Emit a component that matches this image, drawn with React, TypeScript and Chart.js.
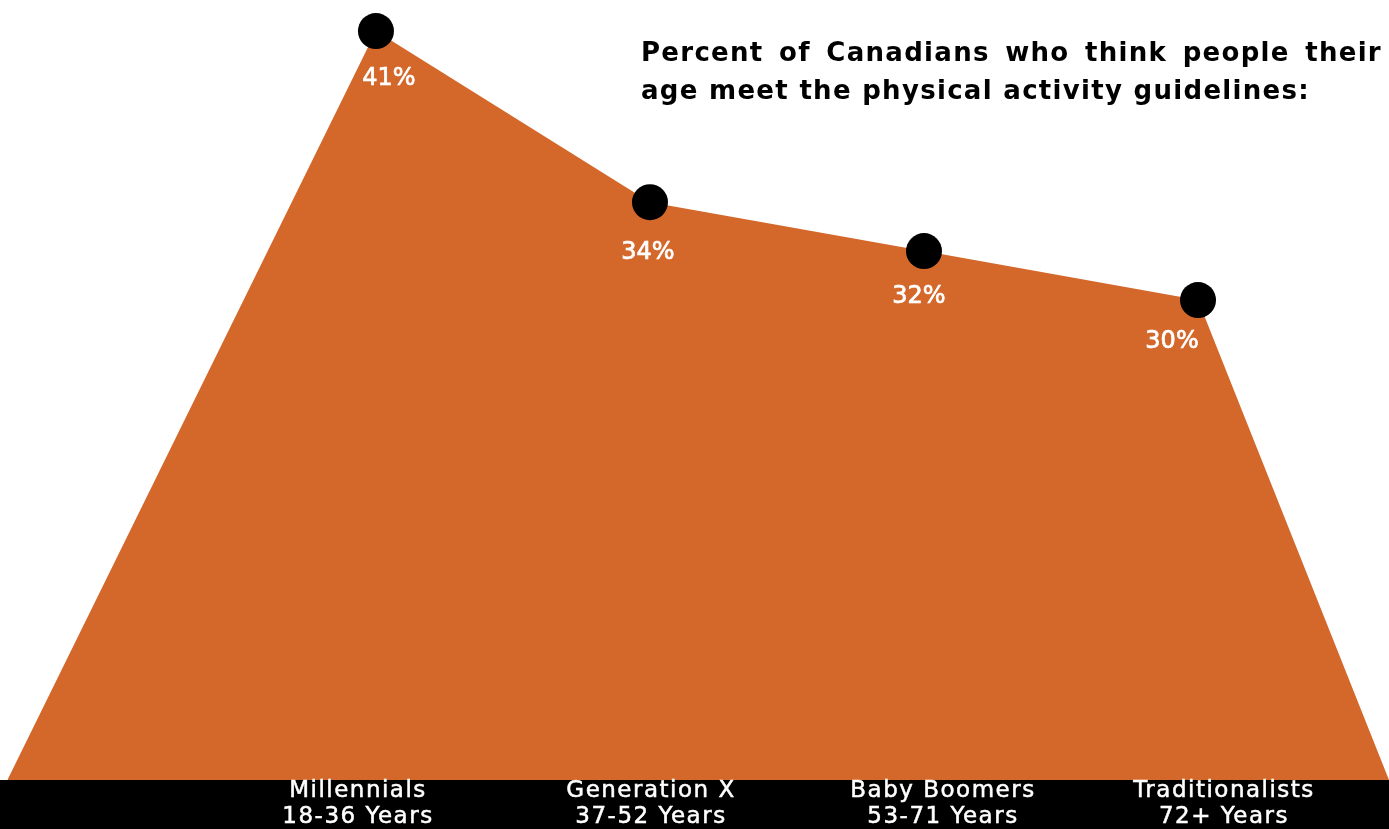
import React, { useEffect, useRef } from "react";
import { Chart, registerables } from "chart.js";

Chart.register(...registerables);

// ---- data ----
const categories = ["Millennials", "Generation X", "Baby Boomers", "Traditionalists"];
const ageRanges = ["18-36 Years", "37-52 Years", "53-71 Years", "72+ Years"];
const percentValues = [41, 34, 32, 30];
const titleLines = [
  "Percent of Canadians who think people their",
  "age meet the physical activity guidelines:",
];

// axis bounds (area runs from the bottom corners of the plot)
const Y_MIN = 10.37;
const Y_MAX = 42.27;
const X_MIN = -0.372;
const X_MAX = 4.697;
const EDGE_LEFT_X = -0.345;
const EDGE_RIGHT_X = 4.697;

// styling
const ORANGE = "#D4672A";
const labelDx = [13, -2, -5, -26];
const labelDy = [54, 57, 52, 48];
const barLabelLeft = [358, 651, 943, 1224];
const FONT = "'DejaVu Sans', sans-serif";

const valueLabelPlugin = {
  id: "valueLabels",
  afterDatasetsDraw(chart: any) {
    const meta = chart.getDatasetMeta(0);
    const ctx = chart.ctx;
    ctx.save();
    ctx.fillStyle = "#ffffff";
    ctx.strokeStyle = "#ffffff";
    ctx.lineWidth = 0.7;
    ctx.font = `normal 24px ${FONT}`;
    ctx.textAlign = "center";
    ctx.textBaseline = "alphabetic";
    percentValues.forEach((v, i) => {
      const el = meta.data[i + 1];
      if (!el) return;
      const x = el.x + labelDx[i];
      const y = el.y + labelDy[i];
      ctx.fillText(`${v}%`, x, y);
      ctx.strokeText(`${v}%`, x, y);
    });
    ctx.restore();
  },
};

export default function App() {
  const canvasRef = useRef<HTMLCanvasElement | null>(null);

  useEffect(() => {
    document.body.style.margin = "0";
    const canvas = canvasRef.current;
    if (!canvas) return;
    const points = [
      { x: EDGE_LEFT_X, y: Y_MIN },
      ...percentValues.map((v, i) => ({ x: i + 1, y: v })),
      { x: EDGE_RIGHT_X, y: Y_MIN },
    ];
    const last = points.length - 1;
    const chart = new Chart(canvas, {
      type: "line",
      data: {
        datasets: [
          {
            data: points,
            backgroundColor: ORANGE,
            borderWidth: 0,
            borderColor: ORANGE,
            fill: "start",
            tension: 0,
            pointRadius: points.map((_, i) => (i === 0 || i === last ? 0 : 18)),
            pointBackgroundColor: "#000000",
            pointBorderWidth: 0,
            clip: false as any,
          },
        ],
      },
      options: {
        animation: false,
        responsive: true,
        maintainAspectRatio: false,
        layout: { padding: 0 },
        plugins: {
          legend: { display: false },
          tooltip: { enabled: false },
          title: { display: false },
        },
        scales: {
          x: { type: "linear", min: X_MIN, max: X_MAX, display: false },
          y: { type: "linear", min: Y_MIN, max: Y_MAX, display: false },
        },
      },
      plugins: [valueLabelPlugin],
    });
    return () => chart.destroy();
  }, []);

  return (
    <div style={{ position: "relative", width: 1389, height: 829, overflow: "hidden", background: "#fff" }}>
      <div style={{ position: "absolute", left: 0, top: 0, width: 1389, height: 780 }}>
        <canvas ref={canvasRef} />
      </div>
      <div
        style={{
          position: "absolute",
          left: 641,
          top: 33,
          width: 741,
          fontFamily: FONT,
          fontWeight: "bold",
          fontSize: 26,
          lineHeight: "38px",
          letterSpacing: "1.3px",
          color: "#000",
        }}
      >
        <div style={{ textAlign: "justify", textAlignLast: "justify" as any, whiteSpace: "nowrap" }}>{titleLines[0]}</div>
        <div style={{ whiteSpace: "nowrap" }}>{titleLines[1]}</div>
      </div>
      <div style={{ position: "absolute", left: 0, top: 780, width: 1389, height: 49, background: "#000" }}>
        {categories.map((c, i) => (
          <div
            key={c}
            style={{
              position: "absolute",
              left: barLabelLeft[i],
              top: -4,
              transform: "translateX(-50%)",
              textAlign: "center",
              color: "#fff",
              fontFamily: FONT,
              fontWeight: "normal",
              fontSize: 23,
              lineHeight: "26px",
              letterSpacing: "1.5px",
              WebkitTextStroke: "0.5px #fff",
              whiteSpace: "nowrap",
            }}
          >
            <div>{c}</div>
            <div>{ageRanges[i]}</div>
          </div>
        ))}
      </div>
    </div>
  );
}
